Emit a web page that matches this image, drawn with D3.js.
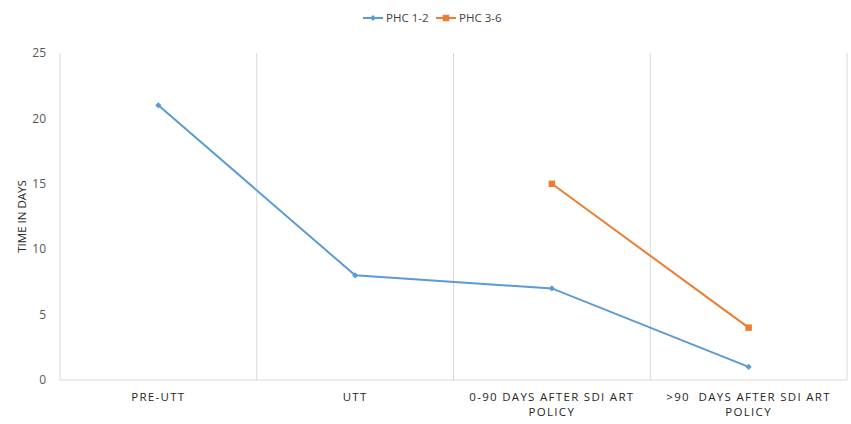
<!DOCTYPE html>
<html>
<head>
<meta charset="utf-8">
<script src="https://cdn.jsdelivr.net/npm/d3@7"></script>
<style>
  body { margin: 0; background: #fff; }
  text { font-family: "Open Sans", "Noto Sans", sans-serif; white-space: pre; }
</style>
</head>
<body>
<div id="chart"></div>
<script>
// chart data
var categories = ['PRE-UTT', 'UTT', '0-90 DAYS AFTER SDI ART POLICY', '>90  DAYS AFTER SDI ART POLICY'];
var categoryLines = [['PRE-UTT'], ['UTT'], ['0-90 DAYS AFTER SDI ART', 'POLICY'], ['>90  DAYS AFTER SDI ART', 'POLICY']];
var phc12 = [21, 8, 7, 1];
var phc36 = [null, null, 15, 4];
var yTicks = [0, 5, 10, 15, 20, 25];

var width = 851, height = 424;
var margin = { top: 53, right: 4, bottom: 44, left: 60 };

var svg = d3.select('#chart').append('svg')
  .attr('width', width)
  .attr('height', height);

var x = d3.scaleBand()
  .domain(categories)
  .range([margin.left, width - margin.right]);

var y = d3.scaleLinear()
  .domain([0, 25])
  .range([height - margin.bottom, margin.top]);

// vertical gridlines at the band edges
var edges = categories.map(function(c) { return x(c); });
edges.push(x.range()[1]);
svg.append('g').selectAll('line')
  .data(edges)
  .enter().append('line')
  .attr('x1', function(d) { return d; })
  .attr('x2', function(d) { return d; })
  .attr('y1', y(25))
  .attr('y2', y(0))
  .attr('stroke', '#d9d9d9')
  .attr('stroke-width', 1);

// bottom axis line
svg.append('line')
  .attr('x1', x.range()[0])
  .attr('x2', x.range()[1])
  .attr('y1', y(0))
  .attr('y2', y(0))
  .attr('stroke', '#d9d9d9');

// y tick labels
svg.append('g').selectAll('text')
  .data(yTicks)
  .enter().append('text')
  .attr('x', 46)
  .attr('y', function(d) { return y(d); })
  .attr('dy', '0.35em')
  .attr('text-anchor', 'end')
  .attr('font-size', 12)
  .attr('fill', '#595959')
  .text(function(d) { return d; });

// y axis title
svg.append('text')
  .attr('transform', 'translate(26,' + (y(12.5)) + ') rotate(-90)')
  .attr('text-anchor', 'middle')
  .attr('font-size', 11.5)
  .attr('fill', '#262626')
  .text('TIME IN DAYS');

// x labels
var xl = svg.append('g').selectAll('text')
  .data(categories)
  .enter().append('text')
  .attr('x', function(d) { return x(d) + x.bandwidth() / 2; })
  .attr('y', y(0) + 21)
  .attr('text-anchor', 'middle')
  .attr('font-size', 11.5)
  .attr('letter-spacing', '1.3px')
  .attr('fill', '#262626');
xl.each(function(d, i) {
  var t = d3.select(this);
  categoryLines[i].forEach(function(line, j) {
    t.append('tspan')
      .attr('x', x(d) + x.bandwidth() / 2)
      .attr('dy', j === 0 ? 0 : 15)
      .text(line);
  });
});

var cx = function(d, i) { return x(categories[i]) + x.bandwidth() / 2; };

var line = d3.line()
  .defined(function(d) { return d != null; })
  .x(cx)
  .y(function(d) { return y(d); });

var series = [
  { name: 'PHC 1-2', values: phc12, color: '#5b9bd5', marker: d3.symbolDiamond2, size: 24 },
  { name: 'PHC 3-6', values: phc36, color: '#ed7d31', marker: d3.symbolSquare, size: 42 }
];

series.forEach(function(s) {
  svg.append('path')
    .datum(s.values)
    .attr('fill', 'none')
    .attr('stroke', s.color)
    .attr('stroke-width', 2)
    .attr('d', line);

  svg.append('g').selectAll('path')
    .data(s.values.map(function(v, i) { return { v: v, i: i }; }).filter(function(d) { return d.v != null; }))
    .enter().append('path')
    .attr('transform', function(d) { return 'translate(' + cx(d.v, d.i) + ',' + y(d.v) + ')'; })
    .attr('d', d3.symbol().type(s.marker).size(s.size))
    .attr('fill', s.color);
});

// legend
var legend = svg.append('g');
var legendX = [363, 436];
series.forEach(function(s, i) {
  var g = legend.append('g').attr('transform', 'translate(' + legendX[i] + ',18)');
  g.append('line')
    .attr('x1', 0).attr('x2', 20)
    .attr('stroke', s.color)
    .attr('stroke-width', 2);
  g.append('path')
    .attr('transform', 'translate(10,0)')
    .attr('d', d3.symbol().type(s.marker).size(s.size))
    .attr('fill', s.color);
  g.append('text')
    .attr('x', 23)
    .attr('dy', '0.35em')
    .attr('font-size', 11.5)
    .attr('fill', '#404040')
    .text(s.name);
});
</script>
</body>
</html>
